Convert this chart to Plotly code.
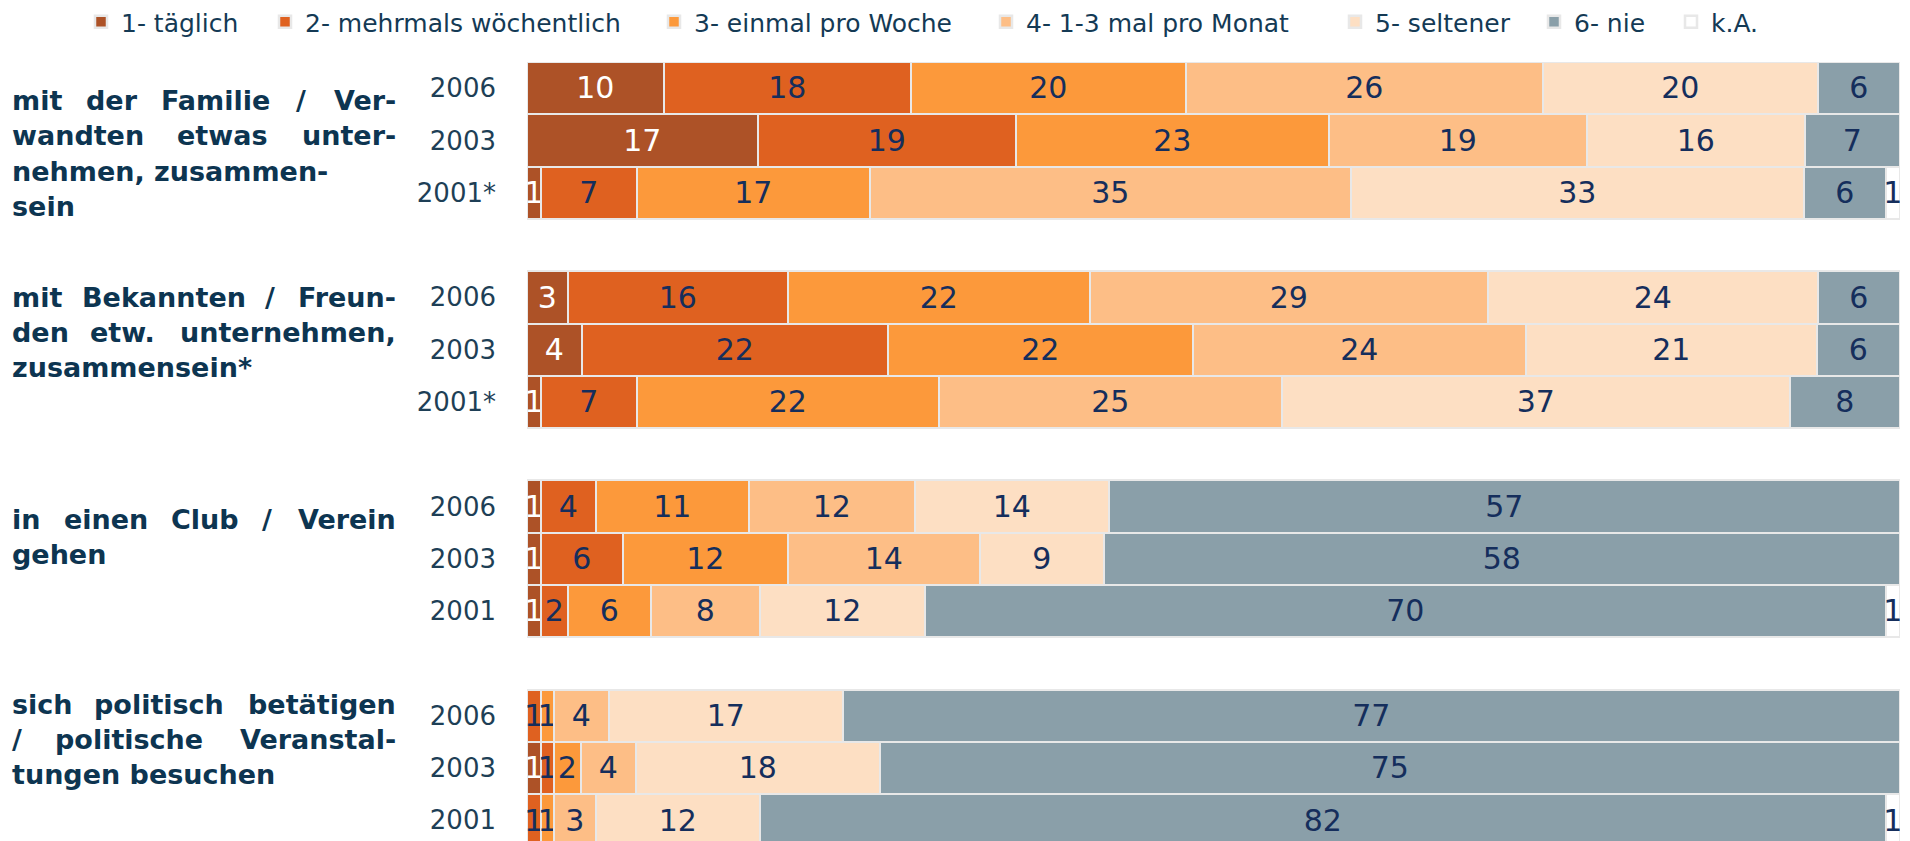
import plotly.graph_objects as go

# ---------------- data ----------------
categories = ["1- täglich", "2- mehrmals wöchentlich", "3- einmal pro Woche",
              "4- 1-3 mal pro Monat", "5- seltener", "6- nie", "k.A."]

activity_lines = [
    ["mit der Familie / Ver-", "wandten etwas unter-", "nehmen, zusammen-", "sein"],
    ["mit Bekannten / Freun-", "den etw. unternehmen,", "zusammensein*"],
    ["in einen Club / Verein", "gehen"],
    ["sich politisch betätigen", "/ politische Veranstal-", "tungen besuchen"],
]

years = [
    ["2006", "2003", "2001*"],
    ["2006", "2003", "2001*"],
    ["2006", "2003", "2001"],
    ["2006", "2003", "2001"],
]

# values in row order: group1 (2006, 2003, 2001), group2, group3, group4
taeglich   = [10, 17, 1,   3, 4, 1,    1, 1, 1,    0, 1, 0]
mehrmals   = [18, 19, 7,   16, 22, 7,  4, 6, 2,    1, 1, 1]
einmal     = [20, 23, 17,  22, 22, 22, 11, 12, 6,  1, 2, 1]
monat      = [26, 19, 35,  29, 24, 25, 12, 14, 8,  4, 4, 3]
seltener   = [20, 16, 33,  24, 21, 37, 14, 9, 12,  17, 18, 12]
nie        = [6, 7, 6,     6, 6, 8,    57, 58, 70, 77, 75, 82]
keine_ang  = [0, 0, 1,     0, 0, 0,    0, 0, 1,    0, 0, 1]

series = [taeglich, mehrmals, einmal, monat, seltener, nie, keine_ang]

# ---------------- styles / layout ----------------
colors = ["#AD5227", "#DF6120", "#FC993B", "#FDBE86", "#FDDFC3", "#8A9FA9", "#FFFFFF"]
label_colors = ["#FFFFFF", "#152E5C", "#152E5C", "#152E5C", "#152E5C", "#152E5C", "#152E5C"]
legend_text_px = [122, 306, 695, 1027, 1376, 1575, 1712]   # page x where legend texts start
label_first_line_px = [101, 297, 519, 704]                 # page y of first label line
label_line_pitch = 35
justify = [[True, True, False, False], [True, True, False], [True, False], [True, True, False]]
label_left_px, label_right_px = 13, 395
label_font_size = 27

OFF = 8  # default page (body) margin around the plot div
W, H = 1910, 841
ML, MR, MT, MB = 527 - OFF, 10 + OFF, 62 - OFF, 0
PW, PH = W - ML - MR, H - MT - MB
ROW_PX = 52.3
y_bottom = -0.5 + PH / ROW_PX

FONT = "DejaVu Sans"
NAVY = "#0D3551"
TICK = "#1E3F56"

# approximate advance widths (em) of DejaVu Sans Bold, used to justify the labels
BOLD_EM = {
    " ": 0.348, ",": 0.381, "-": 0.415, ".": 0.381, "/": 0.365, "*": 0.5,
    "B": 0.762, "C": 0.734, "F": 0.683, "V": 0.774,
    "a": 0.675, "ä": 0.675, "b": 0.716, "c": 0.593, "d": 0.716, "e": 0.678,
    "f": 0.435, "g": 0.716, "h": 0.712, "i": 0.343, "k": 0.665, "l": 0.343,
    "m": 1.042, "n": 0.712, "o": 0.687, "p": 0.716, "r": 0.493, "s": 0.595,
    "t": 0.478, "u": 0.712, "v": 0.652, "w": 0.924, "z": 0.582,
}


def text_width(s, size):
    return sum(BOLD_EM.get(ch, 0.65) for ch in s) * size


def px_to_paper_x(px):
    return (px - OFF - ML) / PW


def px_to_paper_y(py):
    return 1 - (py - OFF - MT) / PH


# row positions: 3 rows per group plus one empty row between groups
row_pos = []
tick_text = []
for g, yrs in enumerate(years):
    for j, yr in enumerate(yrs):
        row_pos.append(g * 4 + j)
        tick_text.append(yr)

fig = go.Figure()
for i, (name, vals) in enumerate(zip(categories, series)):
    xs = [v if v else None for v in vals]
    txt = [str(v) if v else "" for v in vals]
    fig.add_trace(go.Bar(
        y=row_pos, x=xs, name=name, orientation="h",
        width=1.0,
        marker=dict(color=colors[i], line=dict(color="#E8E8E8", width=2.5)),
        text=txt, texttemplate="%{text}",
        textposition="inside", insidetextanchor="middle", textangle=0,
        textfont=dict(family=FONT, size=30, color=label_colors[i]),
        legend="legend" if i == 0 else f"legend{i + 1}",
        hoverinfo="skip",
    ))

legends = {}
for i in range(len(categories)):
    key = "legend" if i == 0 else f"legend{i + 1}"
    legends[key] = dict(
        xref="container", yref="container",
        x=(legend_text_px[i] - OFF - 41) / W, xanchor="left",
        y=1 - (22 - OFF) / H, yanchor="middle",
        orientation="h", bgcolor="rgba(0,0,0,0)",
        font=dict(family=FONT, size=25, color="#143A55"),
        borderwidth=0, itemwidth=30, tracegroupgap=0,
    )

PAD = 3  # annotation inner padding
label_font = dict(family=FONT, size=label_font_size, color=NAVY, weight="bold")
annotations = []
for g, lines in enumerate(activity_lines):
    for k, line in enumerate(lines):
        yp = px_to_paper_y(label_first_line_px[g] + k * label_line_pitch)
        words = line.split(" ")
        if justify[g][k] and len(words) > 1:
            widths = [text_width(w, label_font_size) for w in words]
            gap = (label_right_px - label_left_px - sum(widths)) / (len(words) - 1)
            xcur = label_left_px
            for n, (w, wd) in enumerate(zip(words, widths)):
                if n == len(words) - 1:
                    annotations.append(dict(
                        x=px_to_paper_x(label_right_px + PAD), xref="paper", xanchor="right",
                        y=yp, yref="paper", yanchor="middle",
                        text=w, showarrow=False, font=label_font))
                else:
                    annotations.append(dict(
                        x=px_to_paper_x(xcur - PAD), xref="paper", xanchor="left",
                        y=yp, yref="paper", yanchor="middle",
                        text=w, showarrow=False, font=label_font))
                xcur += wd + gap
        else:
            annotations.append(dict(
                x=px_to_paper_x(label_left_px - PAD), xref="paper", xanchor="left",
                y=yp, yref="paper", yanchor="middle",
                text=line, showarrow=False, font=label_font))

fig.update_layout(
    width=W, height=H,
    margin=dict(l=ML, r=MR, t=MT, b=MB, autoexpand=False),
    paper_bgcolor="white", plot_bgcolor="white",
    barmode="stack", barnorm="percent", bargap=0,
    uniformtext=dict(mode="show", minsize=30),
    xaxis=dict(range=[0, 100], visible=False, fixedrange=True),
    yaxis=dict(
        range=[y_bottom, -0.5], tickvals=row_pos, ticktext=tick_text,
        showgrid=False, zeroline=False, showline=False,
        ticks="", ticklabelstandoff=30, automargin=False,
        tickfont=dict(family=FONT, size=26, color=TICK),
        fixedrange=True,
    ),
    annotations=annotations,
    showlegend=True,
    **legends,
)

fig.write_html("out.html")
